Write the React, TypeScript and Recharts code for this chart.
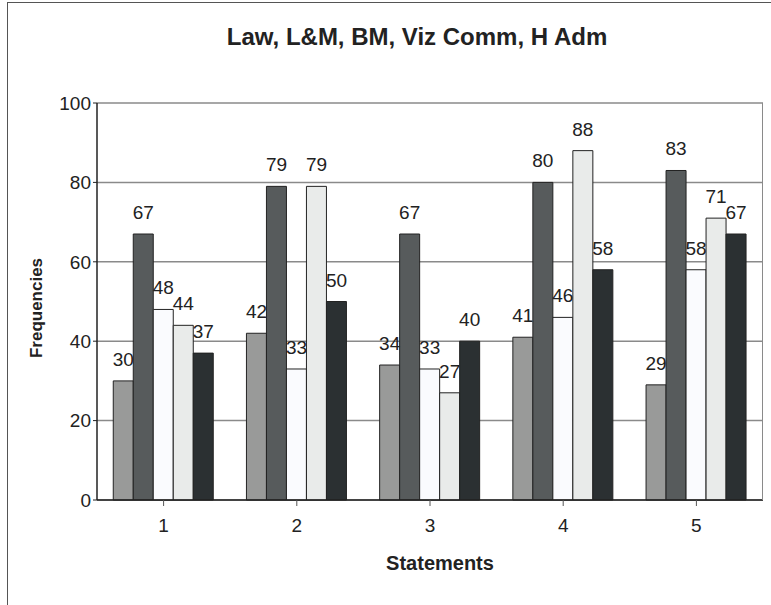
import React from "react"
import { BarChart, Bar, XAxis, YAxis, CartesianGrid, LabelList } from "recharts"

const statements = ["1", "2", "3", "4", "5"]
const seriesA = [30, 42, 34, 41, 29]
const seriesB = [67, 79, 67, 80, 83]
const seriesC = [48, 33, 33, 46, 58]
const seriesD = [44, 79, 27, 88, 71]
const seriesE = [37, 50, 40, 58, 67]
const yTicks = [0, 20, 40, 60, 80, 100]

const series = [
  { key: "a", values: seriesA, fill: "#999a99" },
  { key: "b", values: seriesB, fill: "#575b5c" },
  { key: "c", values: seriesC, fill: "#fafbfe" },
  { key: "d", values: seriesD, fill: "#e9ebea" },
  { key: "e", values: seriesE, fill: "#2b3032" },
]

const data = statements.map((s, i) => {
  const row: Record<string, string | number> = { name: s }
  series.forEach((sr) => {
    row[sr.key] = sr.values[i]
  })
  return row
})

const font = "Arial, 'Liberation Sans', sans-serif"

export default function App() {
  return (
    <div
      style={{
        position: "fixed",
        left: 0,
        top: 0,
        width: 771,
        height: 605,
        overflow: "hidden",
        background: "#fff",
        fontFamily: font,
      }}
    >
      {/* outer frame, only left and top edges show */}
      <div
        style={{
          position: "absolute",
          left: 7,
          top: 2,
          width: 900,
          height: 800,
          border: "1px solid #555",
        }}
      />
      <div
        style={{
          position: "absolute",
          left: 0,
          top: 23,
          width: 834,
          textAlign: "center",
          fontWeight: "bold",
          fontSize: 24,
          color: "#222",
        }}
      >
        Law, L&amp;M, BM, Viz Comm, H Adm
      </div>
      <div style={{ position: "absolute", left: 0, top: 0 }}>
        <BarChart
          width={771}
          height={605}
          data={data}
          margin={{ top: 103, right: 8, left: 37, bottom: 75 }}
          barCategoryGap="12.2%"
          barGap={0}
        >
          <CartesianGrid vertical={false} stroke="#8a8a8a" strokeWidth={1.5} />
          <XAxis
            dataKey="name"
            tickLine={{ stroke: "#555" }}
            tickSize={6}
            axisLine={{ stroke: "#222", strokeWidth: 1.5 }}
            tick={{ fontSize: 19, fill: "#222", fontFamily: font }}
            dy={11}
            label={{
              value: "Statements",
              position: "insideBottom",
              offset: -40,
              dx: 10,
              fontSize: 20,
              fontWeight: "bold",
              fill: "#222",
              fontFamily: font,
            }}
          />
          <YAxis
            width={60}
            domain={[0, 100]}
            ticks={yTicks}
            tickLine={{ stroke: "#222" }}
            tickSize={4}
            axisLine={{ stroke: "#222", strokeWidth: 1.5 }}
            tick={{ fontSize: 19, fill: "#222", fontFamily: font }}
          />
          {series.map((sr) => (
            <Bar
              key={sr.key}
              dataKey={sr.key}
              fill={sr.fill}
              stroke="#222"
              strokeWidth={1}
              isAnimationActive={false}
            >
              <LabelList
                dataKey={sr.key}
                position="top"
                offset={15}
                fontSize={19}
                fill="#222"
                fontFamily={font}
              />
            </Bar>
          ))}
        </BarChart>
      </div>
      <div
        style={{
          position: "absolute",
          left: 37,
          top: 308,
          transform: "translate(-50%, -50%) rotate(-90deg)",
          fontWeight: "bold",
          fontSize: 17,
          color: "#222",
          whiteSpace: "nowrap",
        }}
      >
        Frequencies
      </div>
      {/* right border of plot area */}
      <div
        style={{
          position: "absolute",
          left: 762,
          top: 103,
          width: 1,
          height: 397,
          background: "#8a8a8a",
        }}
      />
    </div>
  )
}
